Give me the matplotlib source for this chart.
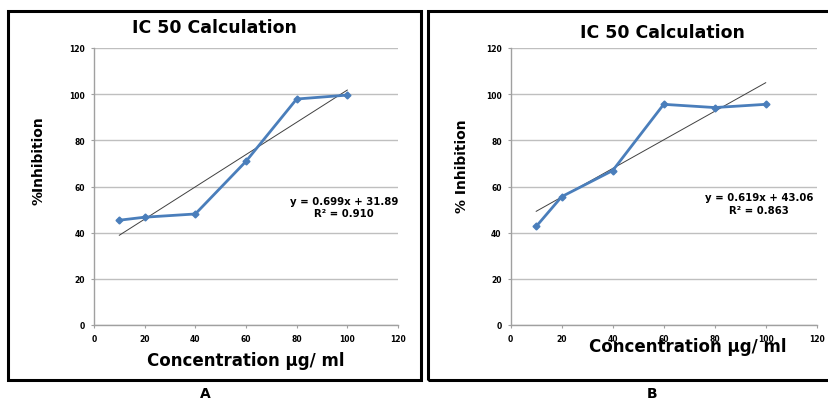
import matplotlib
matplotlib.use("Agg")
import matplotlib.pyplot as plt
from matplotlib.patches import Rectangle
import numpy as np

# Concentrations (µg/ml) and measured inhibition (%)
conc = [10, 20, 40, 60, 80, 100]
inhib_a = [45.4, 46.7, 48.1, 70.9, 97.9, 99.6]
inhib_b = [42.7, 55.6, 66.9, 95.6, 94.2, 95.6]

# Linear trend lines (slope, intercept, R²)
fit_a = (0.699, 31.89, 0.910)
fit_b = (0.619, 43.06, 0.863)

ticks = [0, 20, 40, 60, 80, 100, 120]
panel_letters = ["A", "B"]
ylabels = ["%Inhibition", "% Inhibition"]

W, H = 829, 402
fig = plt.figure(figsize=(W / 100, H / 100), dpi=100)
fig.patch.set_facecolor("white")


def fx(px):
    return px / W


def fy(py):
    return 1 - py / H


line_blue = "#4A7EBB"
grid_gray = "#BFBFBF"

panels = [
    dict(box=(8.5, 11.5, 421, 380.5), ax=(94, 49, 398, 326), title=(214, 28),
         ylab=(39, 161), xlab=(246, 361), eq=(398, 202), r2=(344, 214),
         letter=(205, 394), y=inhib_a, fit=fit_a),
    dict(box=(428.5, 11.5, 840, 380.5), ax=(510.7, 49, 816.7, 326), title=(662, 33),
         ylab=(462, 166), xlab=(688, 347), eq=(813, 198), r2=(759, 211),
         letter=(652, 394), y=inhib_b, fit=fit_b),
]

for i, p in enumerate(panels):
    x0, y0, x1, y1 = p["box"]
    fig.patches.append(Rectangle((fx(x0), fy(y1)), fx(x1 - x0), (y1 - y0) / H,
                                 transform=fig.transFigure, fill=False,
                                 edgecolor="black", linewidth=2.2))
    l, t, r, b = p["ax"]
    ax = fig.add_axes([fx(l), fy(b), fx(r - l), (b - t) / H])
    ax.set_xlim(0, 120)
    ax.set_ylim(0, 120)
    ax.set_xticks(ticks)
    ax.set_yticks(ticks)
    ax.set_xticklabels([str(t_) for t_ in ticks], fontsize=5.5, fontweight="bold")
    ax.set_yticklabels([str(t_) for t_ in ticks], fontsize=5.5, fontweight="bold")
    ax.tick_params(axis="both", length=2.5, width=0.8, color="#A0A0A0", pad=4)
    for s in ["top", "right"]:
        ax.spines[s].set_visible(False)
    for s in ["left", "bottom"]:
        ax.spines[s].set_color("#A0A0A0")
        ax.spines[s].set_linewidth(1.0)
    ax.yaxis.grid(True, color=grid_gray, linewidth=1.0)
    ax.set_axisbelow(True)

    slope, icpt, r2 = p["fit"]
    xt = np.array([conc[0], conc[-1]])
    ax.plot(xt, slope * xt + icpt, color="#404040", linewidth=0.7, zorder=3)
    ax.plot(conc, p["y"], color=line_blue, linewidth=2.0, marker="D",
            markersize=3.5, zorder=4, clip_on=False)

    fig.text(fx(p["title"][0]), fy(p["title"][1]), "IC 50 Calculation",
             fontsize=12.5, fontweight="bold", ha="center", va="center")
    fig.text(fx(p["ylab"][0]), fy(p["ylab"][1]), ylabels[i], fontsize=10,
             fontweight="bold", rotation=90, ha="center", va="center")
    fig.text(fx(p["xlab"][0]), fy(p["xlab"][1]), "Concentration µg/ ml",
             fontsize=12, fontweight="bold", ha="center", va="center")
    fig.text(fx(p["eq"][0]), fy(p["eq"][1]), f"y = {slope:.3f}x + {icpt:.2f}",
             fontsize=7.3, fontweight="bold", ha="right", va="center")
    fig.text(fx(p["r2"][0]), fy(p["r2"][1]), f"R² = {r2:.3f}",
             fontsize=7.3, fontweight="bold", ha="center", va="center")
    fig.text(fx(p["letter"][0]), fy(p["letter"][1]), panel_letters[i],
             fontsize=10, fontweight="bold", ha="center", va="center")

fig.savefig("out.png", dpi=100, facecolor="white")
